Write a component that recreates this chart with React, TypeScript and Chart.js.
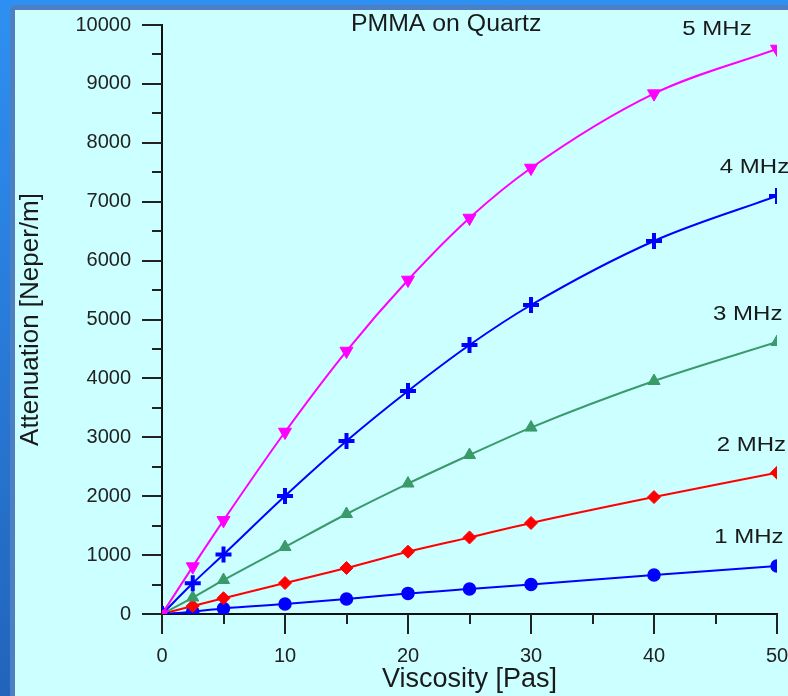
import React, { useEffect, useRef } from 'react';
import { Chart, registerables } from 'chart.js';

Chart.register(...registerables);

// ---- data ----
const viscosity = [0, 2.5, 5, 10, 15, 20, 25, 30, 40, 50];
const att1MHz = [0, 40, 95, 170, 255, 350, 425, 500, 662, 815];
const att2MHz = [0, 136, 268, 526, 781, 1058, 1300, 1545, 1985, 2398];
const att3MHz = [0, 280, 577, 1137, 1698, 2215, 2700, 3165, 3956, 4618];
const att4MHz = [0, 521, 1010, 2003, 2937, 3786, 4567, 5246, 6333, 7097];
const att5MHz = [0, 805, 1590, 3090, 4465, 5671, 6723, 7572, 8835, 9593];
const seriesNames = ['1 MHz', '2 MHz', '3 MHz', '4 MHz', '5 MHz'];
const chartTitle = 'PMMA on Quartz';
const xTitle = 'Viscosity [Pas]';
const yTitle = 'Attenuation [Neper/m]';

// label anchors in data coordinates (left, baseline)
const labelAnchors = [
  { x: 44.9, y: 1205 },
  { x: 45.1, y: 2767 },
  { x: 44.8, y: 4992 },
  { x: 45.35, y: 7482 },
  { x: 42.3, y: 9830 },
];
const titleAnchor = { x: 23.1, y: 9890 };

const FONT = "'Liberation Sans', Arial, sans-serif";
const TEXT = '#1a1a1a';

const styles = [
  { color: '#0000ff', pointStyle: 'circle', radius: 6, rotation: 0, pbw: 1.5 },
  { color: '#ff0000', pointStyle: 'rectRot', radius: 6.5, rotation: 0, pbw: 1 },
  { color: '#3a9a6a', pointStyle: 'triangle', radius: 7, rotation: 0, pbw: 1 },
  { color: '#0000ff', pointStyle: 'cross', radius: 8, rotation: 0, pbw: 4 },
  { color: '#ff00ff', pointStyle: 'triangle', radius: 7.5, rotation: 180, pbw: 1 },
];

const series = [att1MHz, att2MHz, att3MHz, att4MHz, att5MHz];

const annotatePlugin = {
  id: 'annotate',
  afterDraw(chart: any) {
    const { ctx, chartArea, scales } = chart;
    const xs = scales.x;
    const ys = scales.y;
    ctx.save();
    ctx.strokeStyle = '#222';
    ctx.lineWidth = 2;
    ctx.beginPath();
    for (let v = 0; v <= 10000; v += 500) {
      const py = Math.round(ys.getPixelForValue(v));
      const len = v % 1000 === 0 ? 20 : 10;
      ctx.moveTo(chartArea.left - len, py);
      ctx.lineTo(chartArea.left, py);
    }
    for (let v = 0; v <= 50; v += 5) {
      const px = Math.round(xs.getPixelForValue(v));
      const len = v % 10 === 0 ? 20 : 10;
      ctx.moveTo(px, chartArea.bottom);
      ctx.lineTo(px, chartArea.bottom + len);
    }
    ctx.stroke();

    ctx.fillStyle = TEXT;
    ctx.textBaseline = 'alphabetic';
    seriesNames.forEach((name, i) => {
      const a = labelAnchors[i];
      ctx.save();
      ctx.font = `20px ${FONT}`;
      ctx.textAlign = 'left';
      ctx.translate(xs.getPixelForValue(a.x), ys.getPixelForValue(a.y));
      ctx.scale(1.2, 1);
      ctx.fillText(name, 0, 0);
      ctx.restore();
    });
    ctx.save();
    ctx.font = `23px ${FONT}`;
    ctx.textAlign = 'center';
    ctx.translate(xs.getPixelForValue(titleAnchor.x), ys.getPixelForValue(titleAnchor.y));
    ctx.scale(1.08, 1);
    ctx.fillText(chartTitle, 0, 0);
    ctx.restore();
    ctx.restore();
  },
};

const zeroPad = (s: any) => {
  s.paddingTop = 0;
  s.paddingBottom = 0;
  s.paddingLeft = 0;
  s.paddingRight = 0;
};

export default function App() {
  const ref = useRef<HTMLCanvasElement | null>(null);

  useEffect(() => {
    if (!ref.current) return;
    const datasets = series.map((vals, i) => ({
      label: seriesNames[i],
      data: viscosity.map((v, j) => ({ x: v, y: vals[j] })),
      borderColor: styles[i].color,
      backgroundColor: styles[i].color,
      borderWidth: 2,
      pointStyle: styles[i].pointStyle as any,
      pointRadius: styles[i].radius,
      pointRotation: styles[i].rotation,
      pointBorderWidth: styles[i].pbw,
      pointBorderColor: styles[i].color,
      pointBackgroundColor: styles[i].color,
      cubicInterpolationMode: 'monotone' as const,
      order: 4 - i,
    }));
    const chart = new Chart(ref.current, {
      type: 'line',
      data: { datasets },
      plugins: [annotatePlugin],
      options: {
        animation: false,
        responsive: false,
        events: [],
        layout: { padding: { left: 15, top: 25, right: 11, bottom: 0 }, autoPadding: false },
        plugins: { legend: { display: false }, tooltip: { enabled: false }, title: { display: false } },
        scales: {
          x: {
            type: 'linear',
            min: 0,
            max: 50,
            grid: { display: true, drawOnChartArea: false, drawTicks: false },
            border: { display: true, color: '#111', width: 2 },
            ticks: { stepSize: 10, padding: 30, color: '#222', font: { family: FONT, size: 20 }, callback: (v: any) => String(v) },
            title: { display: true, text: xTitle, color: TEXT, padding: 0, font: { family: FONT, size: 27 } },
            afterFit: (s: any) => { s.height = 82; zeroPad(s); },
          },
          y: {
            type: 'linear',
            min: 0,
            max: 10000,
            grid: { display: true, drawOnChartArea: false, drawTicks: false },
            border: { display: true, color: '#111', width: 2 },
            ticks: { stepSize: 1000, padding: 31, color: '#222', font: { family: FONT, size: 20 }, callback: (v: any) => String(v) },
            title: { display: true, text: yTitle, color: TEXT, padding: 0, font: { family: FONT, size: 26 } },
            afterFit: (s: any) => { s.width = 147; zeroPad(s); },
          },
        },
      },
    });
    return () => chart.destroy();
  }, []);

  return (
    <div style={{ position: 'fixed', left: 0, top: 0, width: 788, height: 696, overflow: 'hidden', background: 'linear-gradient(to bottom, #2e90f2, #2264bb)' }}>
      <div style={{ position: 'absolute', left: 10, top: 5, right: 0, bottom: 0, background: '#4d7fc2', borderTopLeftRadius: 6 }} />
      <div style={{ position: 'absolute', left: 15, top: 10, right: 0, bottom: 0, background: '#ccffff' }} />
      <canvas ref={ref} width={788} height={696} style={{ position: 'absolute', left: 0, top: 0, width: 788, height: 696 }} />
    </div>
  );
}
